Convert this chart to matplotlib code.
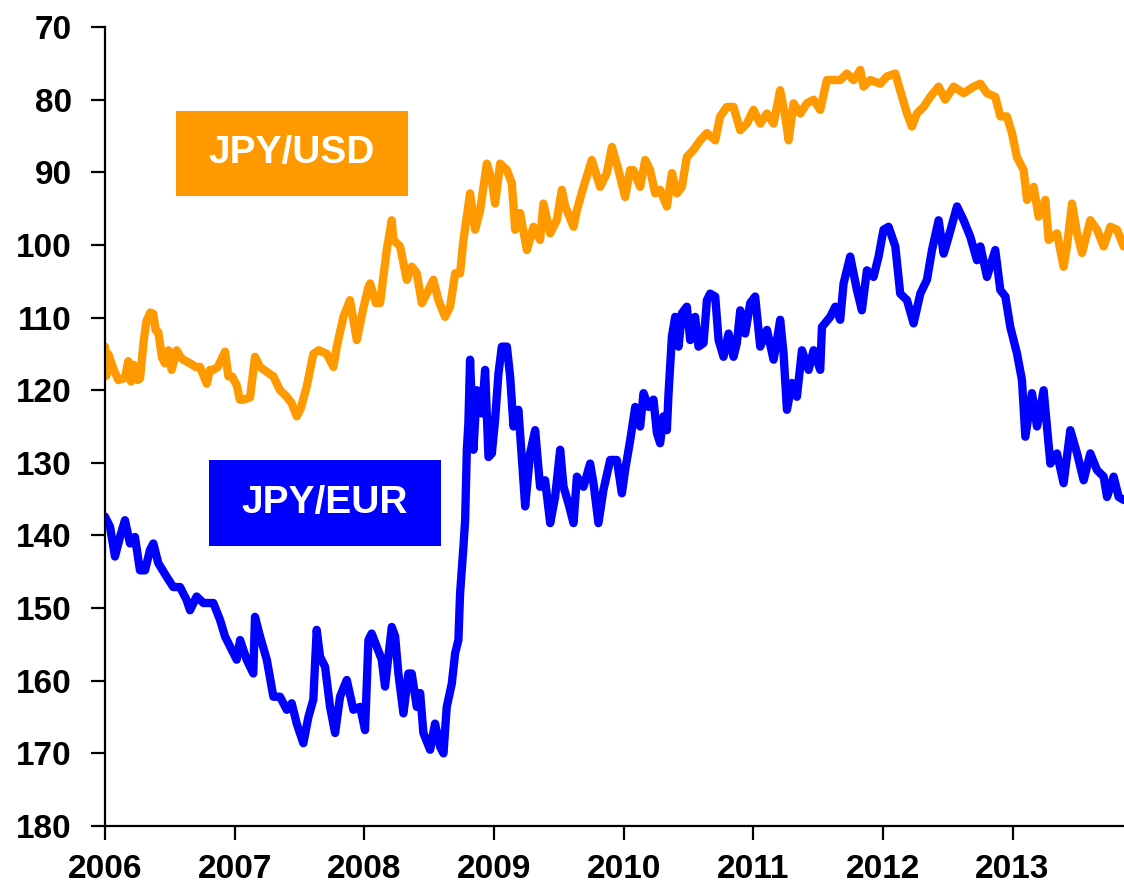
import matplotlib.pyplot as plt
from matplotlib.patches import Rectangle

# JPY per USD (decimal years)
usd_t = [2006.000, 2006.010, 2006.025, 2006.064, 2006.103, 2006.154, 2006.180, 2006.200,
         2006.220, 2006.250, 2006.270, 2006.300, 2006.320, 2006.350, 2006.373, 2006.390,
         2006.411, 2006.440, 2006.463, 2006.490, 2006.514, 2006.553, 2006.580, 2006.604,
         2006.656, 2006.700, 2006.733, 2006.785, 2006.810, 2006.836, 2006.870, 2006.926,
         2006.952, 2006.980, 2007.016, 2007.040, 2007.067, 2007.119, 2007.157, 2007.196,
         2007.250, 2007.299, 2007.350, 2007.402, 2007.440, 2007.479, 2007.510, 2007.556,
         2007.607, 2007.650, 2007.711, 2007.762, 2007.788, 2007.839, 2007.890, 2007.942,
         2007.993, 2008.032, 2008.045, 2008.090, 2008.122, 2008.173, 2008.212, 2008.225,
         2008.276, 2008.328, 2008.366, 2008.405, 2008.444, 2008.482, 2008.533, 2008.572,
         2008.623, 2008.662, 2008.701, 2008.739, 2008.765, 2008.816, 2008.855, 2008.894,
         2008.945, 2008.984, 2009.009, 2009.048, 2009.100, 2009.138, 2009.164, 2009.202,
         2009.254, 2009.305, 2009.356, 2009.382, 2009.434, 2009.485, 2009.524, 2009.550,
         2009.614, 2009.640, 2009.691, 2009.755, 2009.819, 2009.871, 2009.910, 2009.961,
         2010.012, 2010.050, 2010.076, 2010.128, 2010.167, 2010.205, 2010.244, 2010.282,
         2010.334, 2010.373, 2010.411, 2010.450, 2010.488, 2010.540, 2010.591, 2010.643,
         2010.707, 2010.745, 2010.797, 2010.848, 2010.900, 2010.951, 2011.002, 2011.054,
         2011.106, 2011.157, 2011.208, 2011.247, 2011.273, 2011.311, 2011.363, 2011.414,
         2011.466, 2011.517, 2011.568, 2011.620, 2011.671, 2011.723, 2011.774, 2011.826,
         2011.851, 2011.903, 2011.980, 2012.031, 2012.096, 2012.134, 2012.186, 2012.224,
         2012.263, 2012.314, 2012.366, 2012.430, 2012.481, 2012.546, 2012.623, 2012.700,
         2012.752, 2012.803, 2012.867, 2012.906, 2012.957, 2012.996, 2013.034, 2013.086,
         2013.112, 2013.163, 2013.201, 2013.253, 2013.279, 2013.343, 2013.394, 2013.420,
         2013.459, 2013.498, 2013.536, 2013.600, 2013.652, 2013.703, 2013.755, 2013.806,
         2013.857]
usd_v = [114.0, 118.0, 115.0, 117.0, 118.6, 118.3, 116.0, 118.8,
         116.5, 118.6, 118.4, 113.0, 110.5, 109.3, 109.5, 111.7,
         112.0, 115.5, 116.3, 114.5, 117.2, 114.5, 115.4, 115.8,
         116.3, 116.8, 116.8, 119.1, 117.2, 117.2, 116.8, 114.7,
         118.1, 118.1, 119.3, 121.3, 121.3, 121.0, 115.4, 116.8,
         117.5, 118.1, 120.0, 120.9, 121.8, 123.6, 122.5, 119.5,
         115.0, 114.5, 115.0, 116.8, 114.0, 109.9, 107.6, 113.1,
         108.7, 105.8, 105.3, 108.0, 108.0, 100.7, 96.6, 99.3,
         100.2, 104.8, 103.0, 103.9, 108.0, 106.7, 104.8, 107.6,
         109.9, 108.5, 103.9, 103.9, 99.3, 92.9, 97.9, 95.2,
         88.8, 91.1, 94.3, 88.8, 89.7, 91.5, 97.9, 95.6,
         100.7, 97.5, 99.3, 94.3, 98.4, 96.6, 92.4, 94.7,
         97.5, 95.2, 92.0, 88.3, 92.0, 90.1, 86.5, 89.7,
         93.4, 89.7, 89.7, 92.0, 88.3, 89.7, 92.9, 92.4,
         94.7, 90.1, 92.9, 92.0, 87.9, 86.9, 85.6, 84.6,
         85.6, 82.3, 81.0, 81.0, 84.2, 83.3, 81.4, 83.3,
         81.9, 83.3, 78.7, 82.3, 85.6, 80.5, 81.9, 80.5,
         80.0, 81.4, 77.3, 77.3, 77.3, 76.4, 77.3, 75.9,
         78.2, 77.3, 77.8, 76.8, 76.4, 78.7, 81.9, 83.7,
         81.9, 81.0, 79.6, 78.2, 80.0, 78.2, 79.1, 78.2,
         77.8, 79.1, 79.6, 82.3, 82.3, 84.6, 87.9, 89.7,
         93.8, 92.0, 96.1, 93.8, 99.3, 98.4, 103.0, 100.2,
         94.3, 98.4, 101.1, 96.6, 97.9, 100.2, 97.5, 97.9,
         100.2]

# JPY per EUR
eur_t = [2006.000, 2006.039, 2006.077, 2006.116, 2006.154, 2006.193, 2006.231, 2006.270,
         2006.309, 2006.347, 2006.373, 2006.411, 2006.476, 2006.527, 2006.579, 2006.630,
         2006.656, 2006.707, 2006.759, 2006.836, 2006.887, 2006.926, 2006.965, 2007.016,
         2007.042, 2007.093, 2007.144, 2007.157, 2007.196, 2007.248, 2007.299, 2007.350,
         2007.402, 2007.440, 2007.479, 2007.530, 2007.569, 2007.607, 2007.633, 2007.659,
         2007.698, 2007.736, 2007.775, 2007.813, 2007.865, 2007.916, 2007.968, 2008.006,
         2008.032, 2008.057, 2008.096, 2008.135, 2008.160, 2008.186, 2008.212, 2008.238,
         2008.263, 2008.302, 2008.340, 2008.366, 2008.405, 2008.431, 2008.456, 2008.508,
         2008.546, 2008.585, 2008.611, 2008.636, 2008.675, 2008.701, 2008.726, 2008.739,
         2008.765, 2008.778, 2008.791, 2008.803, 2008.816, 2008.842, 2008.868, 2008.907,
         2008.932, 2008.958, 2008.984, 2009.009, 2009.035, 2009.061, 2009.100, 2009.125,
         2009.151, 2009.189, 2009.215, 2009.241, 2009.279, 2009.318, 2009.356, 2009.395,
         2009.434, 2009.472, 2009.511, 2009.537, 2009.575, 2009.614, 2009.640, 2009.691,
         2009.742, 2009.768, 2009.806, 2009.845, 2009.897, 2009.948, 2009.987, 2010.012,
         2010.051, 2010.090, 2010.128, 2010.154, 2010.192, 2010.231, 2010.257, 2010.282,
         2010.308, 2010.334, 2010.347, 2010.373, 2010.398, 2010.424, 2010.450, 2010.488,
         2010.514, 2010.552, 2010.578, 2010.617, 2010.643, 2010.668, 2010.707, 2010.733,
         2010.771, 2010.810, 2010.848, 2010.874, 2010.900, 2010.938, 2010.977, 2011.015,
         2011.054, 2011.106, 2011.157, 2011.183, 2011.208, 2011.234, 2011.260, 2011.299,
         2011.337, 2011.376, 2011.427, 2011.466, 2011.517, 2011.530, 2011.594, 2011.633,
         2011.671, 2011.697, 2011.748, 2011.800, 2011.838, 2011.877, 2011.928, 2011.967,
         2012.005, 2012.044, 2012.096, 2012.134, 2012.186, 2012.237, 2012.289, 2012.340,
         2012.379, 2012.430, 2012.469, 2012.507, 2012.572, 2012.623, 2012.675, 2012.726,
         2012.752, 2012.803, 2012.867, 2012.906, 2012.945, 2012.983, 2013.034, 2013.073,
         2013.099, 2013.150, 2013.189, 2013.240, 2013.266, 2013.292, 2013.343, 2013.394,
         2013.446, 2013.498, 2013.549, 2013.600, 2013.652, 2013.703, 2013.729, 2013.780,
         2013.819, 2013.857]
eur_v = [137.4, 138.8, 142.9, 140.2, 137.9, 141.1, 140.2, 144.8,
         144.8, 142.0, 141.1, 143.8, 145.7, 147.1, 147.1, 148.9,
         150.3, 148.4, 149.3, 149.3, 151.6, 153.9, 155.3, 157.1,
         154.4, 157.1, 159.0, 151.2, 153.9, 157.1, 162.2, 162.2,
         164.0, 163.1, 165.9, 168.6, 165.0, 162.6, 153.0, 156.7,
         158.1, 163.6, 167.2, 162.2, 159.9, 164.0, 163.6, 166.8,
         154.4, 153.5, 155.3, 157.1, 160.8, 156.7, 152.6, 153.9,
         159.0, 164.5, 159.0, 159.0, 163.6, 161.7, 167.2, 169.5,
         165.9, 169.1, 170.0, 163.6, 160.4, 156.2, 154.4, 148.0,
         141.5, 137.9, 128.2, 124.6, 115.8, 128.2, 120.0, 123.2,
         117.2, 129.2, 128.7, 124.1, 117.7, 114.0, 114.0, 118.1,
         125.0, 122.7, 129.2, 136.0, 128.7, 125.5, 133.3, 132.4,
         138.3, 134.7, 128.2, 133.3, 135.6, 138.3, 131.9, 133.3,
         130.1, 132.8, 138.3, 133.7, 129.6, 129.6, 134.2, 131.0,
         126.9, 122.3, 125.0, 120.4, 122.3, 121.3, 125.9, 127.3,
         123.6, 125.5, 120.4, 112.6, 109.9, 114.0, 109.4, 108.5,
         113.1, 109.9, 114.0, 113.5, 107.6, 106.7, 107.1, 113.1,
         115.4, 112.2, 115.4, 113.5, 109.0, 112.2, 108.0, 107.1,
         114.0, 111.7, 115.8, 113.1, 110.3, 114.9, 122.7, 119.0,
         120.9, 114.5, 117.2, 114.5, 117.2, 111.3, 109.9, 108.5,
         110.3, 105.3, 101.6, 106.2, 109.0, 103.5, 104.4, 101.6,
         97.9, 97.5, 100.2, 106.7, 107.6, 110.8, 106.7, 104.8,
         100.7, 96.6, 101.2, 98.9, 94.7, 96.6, 98.9, 102.1,
         100.2, 104.4, 100.7, 106.2, 107.1, 111.3, 114.9, 118.6,
         126.4, 120.4, 125.0, 120.0, 125.0, 130.1, 128.7, 132.8,
         125.5, 128.7, 132.4, 128.7, 131.0, 131.9, 134.7, 131.9,
         134.7, 135.1]

years = [2006, 2007, 2008, 2009, 2010, 2011, 2012, 2013]
y_ticks = [70, 80, 90, 100, 110, 120, 130, 140, 150, 160, 170, 180]

ORANGE = '#FF9900'
BLUE = '#0000FF'

plt.rcParams['font.family'] = ['Liberation Sans', 'DejaVu Sans']
plt.rcParams['font.weight'] = 'bold'

fig = plt.figure(figsize=(11.24, 8.84), dpi=100)
ax = fig.add_axes([0.0934, 0.0656, 0.9066, 0.9038])

ax.plot(usd_t, usd_v, color=ORANGE, lw=6, solid_joinstyle='round', solid_capstyle='round')
ax.plot(eur_t, eur_v, color=BLUE, lw=6, solid_joinstyle='round', solid_capstyle='round')

ax.set_xlim(2006, 2013.86)
ax.set_ylim(180, 70)
ax.set_xticks(years)
ax.set_xticklabels([str(y) for y in years])
ax.set_yticks(y_ticks)

for s in ['top', 'right']:
    ax.spines[s].set_visible(False)
for s in ['left', 'bottom']:
    ax.spines[s].set_linewidth(1.6)
    ax.spines[s].set_color('black')
ax.spines['left'].set_bounds(180, 70)
ax.tick_params(axis='both', direction='out', length=10, width=1.6, labelsize=24)
ax.tick_params(axis='y', pad=14)
ax.tick_params(axis='x', pad=10)
for lab in ax.get_xticklabels() + ax.get_yticklabels():
    lab.set_fontweight('bold')

# label boxes
ax.add_patch(Rectangle((0.0697, 0.789), 0.2277, 0.1064, transform=ax.transAxes,
                       facecolor=ORANGE, edgecolor='none'))
ax.text(0.1835, 0.842, 'JPY/USD', transform=ax.transAxes, color='white',
        fontsize=28, fontweight='bold', ha='center', va='center')
ax.add_patch(Rectangle((0.1021, 0.351), 0.2277, 0.1076, transform=ax.transAxes,
                       facecolor=BLUE, edgecolor='none'))
ax.text(0.2159, 0.404, 'JPY/EUR', transform=ax.transAxes, color='white',
        fontsize=28, fontweight='bold', ha='center', va='center')

fig.savefig('out.png', dpi=100)
